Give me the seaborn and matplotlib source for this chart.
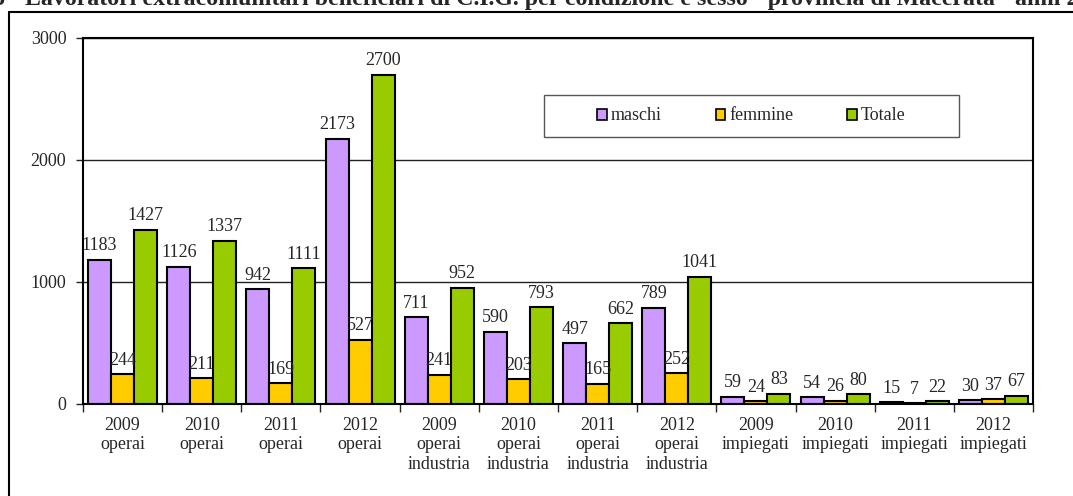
import matplotlib
matplotlib.use("Agg")
import matplotlib.pyplot as plt
from matplotlib.patches import Patch, Rectangle
from matplotlib.lines import Line2D
import pandas as pd
import seaborn as sns

categories = ["2009\noperai", "2010\noperai", "2011\noperai", "2012\noperai",
              "2009\noperai\nindustria", "2010\noperai\nindustria",
              "2011\noperai\nindustria", "2012\noperai\nindustria",
              "2009\nimpiegati", "2010\nimpiegati", "2011\nimpiegati", "2012\nimpiegati"]
maschi = [1183, 1126, 942, 2173, 711, 590, 497, 789, 59, 54, 15, 30]
femmine = [244, 211, 169, 527, 241, 203, 165, 252, 24, 26, 7, 37]
totale = [1427, 1337, 1111, 2700, 952, 793, 662, 1041, 83, 80, 22, 67]
series = ["maschi", "femmine", "Totale"]
colors = ["#CC99FF", "#FFCC00", "#99CC00"]

rows = []
for name, vals in zip(series, [maschi, femmine, totale]):
    for cat, v in zip(categories, vals):
        rows.append({"cat": cat, "serie": name, "val": v})
df = pd.DataFrame(rows)

sns.set_style("white")
plt.rcParams['font.family'] = ['Liberation Serif', 'DejaVu Serif']

W, H = 1073, 496
fig = plt.figure(figsize=(W / 100, H / 100), dpi=100)
ax = fig.add_axes([83 / W, 1 - 404 / H, 950 / W, 366 / H])

sns.barplot(data=df, x="cat", y="val", hue="serie", order=categories,
            hue_order=series, palette=colors, width=0.87, gap=0,
            edgecolor="black", linewidth=1.5, saturation=1, ax=ax, legend=False)

for c in ax.containers:
    ax.bar_label(c, padding=4, fontsize=13)

ax.set_ylim(0, 3000)
ax.set_xlim(-0.5, len(categories) - 0.5)
ax.set_yticks([0, 1000, 2000, 3000])
ax.set_xlabel("")
ax.set_ylabel("")
ax.yaxis.grid(True, color="#222222", linewidth=1)
ax.set_axisbelow(True)
for s in ax.spines.values():
    s.set_color("black")
    s.set_linewidth(1.5)
    s.set_visible(True)

ax.tick_params(axis="y", direction="out", length=5, width=1, pad=7, labelsize=13, left=True)
ax.tick_params(axis="x", which="major", length=0, pad=9, labelsize=13)
ax.set_xticks([i - 0.5 for i in range(len(categories) + 1)], minor=True)
ax.tick_params(axis="x", which="minor", direction="out", length=6, width=1, bottom=True)

# legend box
box = (0.485, 0.73, 0.437, 0.114)
ax.add_patch(Rectangle(box[:2], box[2], box[3], transform=ax.transAxes,
                       facecolor="white", edgecolor="#555555", linewidth=1, zorder=5))
handles = [Patch(facecolor=col, edgecolor="black", linewidth=1.2, label=s)
           for s, col in zip(series, colors)]
leg = ax.legend(handles=handles, loc="center", ncol=3,
                bbox_to_anchor=(box[0] + box[2] / 2, box[1] + box[3] / 2),
                fontsize=13, handlelength=0.55, handleheight=0.55, handletextpad=0.2,
                columnspacing=3.0, frameon=False)
leg.set_zorder(6)

# outer frame of the original sheet
fig.add_artist(Line2D([9 / W, 1], [1 - 12 / H, 1 - 12 / H], color="black", linewidth=1.5))
fig.add_artist(Line2D([9 / W, 9 / W], [0, 1 - 12 / H], color="black", linewidth=1.5))

fig.text(-91 / W, 1 + 1 / H,
         "Grafico 5 - Lavoratori extracomunitari beneficiari di C.I.G. per condizione e sesso"
         " - provincia di Macerata - anni 2009-2012",
         ha="left", va="center", fontsize=17.2, fontweight="bold")

fig.savefig("out.png", dpi=100)
